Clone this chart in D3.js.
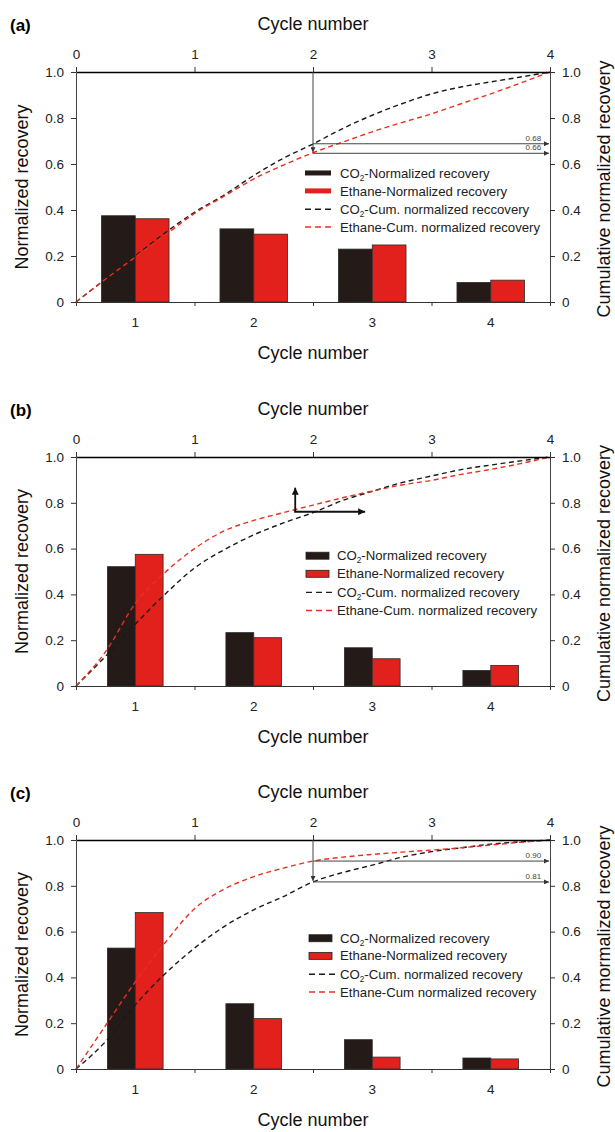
<!DOCTYPE html>
<html><head><meta charset="utf-8">
<script src="https://cdn.jsdelivr.net/npm/d3@7"></script>
<style>
html,body{margin:0;padding:0;background:#fff;}
svg{display:block;font-family:"Liberation Sans",Arial,sans-serif;}
</style></head>
<body><svg id="chart" width="615" height="1132"></svg>
<script>
// ---------- data ----------
const categories = ["1", "2", "3", "4"];
const topTicks = [0, 1, 2, 3, 4];
const yTicks = [0, 0.2, 0.4, 0.6, 0.8, 1.0];
const cumX = [0, 0.25, 0.5, 0.75, 1, 1.25, 1.5, 1.75, 2, 2.25, 2.5, 2.75, 3, 3.25, 3.5, 3.75, 4];

// panel (a)
const aCO2 = [0.375, 0.318, 0.23, 0.085];
const aEthane = [0.362, 0.295, 0.248, 0.095];
const aCumCO2 = [0, 0.10, 0.20, 0.30, 0.39, 0.465, 0.55, 0.625, 0.687, 0.754, 0.812, 0.862, 0.905, 0.935, 0.957, 0.978, 1];
const aCumEthane = [0, 0.10, 0.195, 0.29, 0.385, 0.46, 0.535, 0.595, 0.649, 0.695, 0.74, 0.78, 0.818, 0.862, 0.905, 0.952, 1];
const aLegend = ["CO|2|-Normalized recovery", "Ethane-Normalized recovery", "CO|2|-Cum. normalized reccovery", "Ethane-Cum. normalized recovery"];
const aNotes = [{value: 0.688, label: "0.68"}, {value: 0.6465, label: "0.66"}];

// panel (b)
const bCO2 = [0.521, 0.233, 0.167, 0.068];
const bEthane = [0.575, 0.211, 0.119, 0.09];
const bCumCO2 = [0, 0.13, 0.27, 0.40, 0.515, 0.595, 0.66, 0.712, 0.757, 0.81, 0.85, 0.888, 0.917, 0.945, 0.965, 0.983, 1];
const bCumEthane = [0, 0.15, 0.36, 0.495, 0.60, 0.677, 0.723, 0.757, 0.79, 0.822, 0.851, 0.878, 0.898, 0.924, 0.946, 0.971, 1];
const bLegend = ["CO|2|-Normalized recovery", "Ethane-Normalized recovery", "CO|2|-Cum. normalized  recovery", "Ethane-Cum. normalized recovery"];
const bArrow = {x: 1.85, y: 0.761, xEnd: 2.44, yEnd: 0.866};

// panel (c)
const cCO2 = [0.528, 0.285, 0.128, 0.048];
const cEthane = [0.683, 0.22, 0.052, 0.044];
const cCumCO2 = [0, 0.12, 0.28, 0.415, 0.528, 0.622, 0.695, 0.753, 0.817, 0.858, 0.89, 0.925, 0.949, 0.966, 0.982, 0.992, 1];
const cCumEthane = [0, 0.19, 0.38, 0.55, 0.70, 0.785, 0.84, 0.877, 0.908, 0.925, 0.937, 0.947, 0.956, 0.966, 0.978, 0.99, 1];
const cLegend = ["CO|2|-Normalized recovery", "Ethane-Normalized recovery", "CO|2|-Cum. normalized recovery", "Ethane-Cum normalized recovery"];
const cNotes = [{value: 0.908, label: "0.90"}, {value: 0.817, label: "0.81"}];

const axisTitle = "Cycle number";
const leftTitle = "Normalized recovery";
const rightTitles = ["Cumulative normalized recovery", "Cumulative normalized recovery", "Cumulative mormalized recovery"];

// ---------- styles ----------
const C_DARK = "#241a17";
const C_RED = "#e2211c";
const C_REDLINE = "#e8301f";
const FONT_TITLE = 18, FONT_TICK = 13.5, FONT_LEG = 13.2;

const svg = d3.select("#chart");
const defs = svg.append("defs");
function marker(id, color, w, h) {
  defs.append("marker").attr("id", id).attr("viewBox", "0 0 10 10")
    .attr("refX", 10).attr("refY", 5).attr("markerWidth", w).attr("markerHeight", h)
    .attr("markerUnits", "userSpaceOnUse").attr("orient", "auto-start-reverse")
    .append("path").attr("d", "M0,0 L10,5 L0,10 z").attr("fill", color);
}
marker("arrGrey", "#333", 6, 5);
marker("arrBlack", "#111", 8, 7);

const M = {left: 76, top: 72};
const W = 474;

const panels = [
  {tag: "(a)", offset: 0, h: 230, co2: aCO2, eth: aEthane, cumCO2: aCumCO2, cumEth: aCumEthane, legend: aLegend,
   legendX: 305, legendText: 340, legendY: [0.561, 0.483, 0.403, 0.326], barPad: 0.43, legStyle: "line", notes: aNotes, right: rightTitles[0]},
  {tag: "(b)", offset: 385, h: 229, co2: bCO2, eth: bEthane, cumCO2: bCumCO2, cumEth: bCumEthane, legend: bLegend,
   legendX: 306, legendText: 337, legendY: [0.569, 0.49, 0.409, 0.33], barPad: 0.53, legStyle: "box", arrow: bArrow, right: rightTitles[1]},
  {tag: "(c)", offset: 768, h: 229, co2: cCO2, eth: cEthane, cumCO2: cCumCO2, cumEth: cCumEthane, legend: cLegend,
   legendX: 309, legendText: 340, legendY: [0.571, 0.494, 0.414, 0.336], barPad: 0.53, legStyle: "box", notes: cNotes, right: rightTitles[2]}
];

function richText(sel, str) {
  const parts = str.split("|");
  parts.forEach((p, i) => {
    if (i % 2 === 1) {
      sel.append("tspan").attr("font-size", FONT_LEG * 0.62).attr("dy", 3).text(p);
    } else {
      const t = sel.append("tspan").text(p);
      if (i > 0) t.attr("dy", -3);
    }
  });
}

panels.forEach(p => {
  const H = p.h;
  const g = svg.append("g").attr("transform", `translate(0,${p.offset})`);
  const plot = g.append("g").attr("transform", `translate(${M.left},${M.top})`);

  const x = d3.scaleLinear().domain([0, 4]).range([0, W]);
  const y = d3.scaleLinear().domain([0, 1]).range([H, 0]);
  const band = d3.scaleBand().domain(categories).range([0, W]).paddingInner(p.barPad).paddingOuter(p.barPad / 2);
  const sub = d3.scaleBand().domain(["CO2", "Ethane"]).range([0, band.bandwidth()]);

  // bars
  const rows = categories.map((c, i) => ({c, CO2: p.co2[i], Ethane: p.eth[i]}));
  const grp = plot.selectAll("g.bar").data(rows).join("g").attr("transform", d => `translate(${band(d.c)},0)`);
  grp.selectAll("rect").data(d => ["CO2", "Ethane"].map(k => ({k, v: d[k]}))).join("rect")
    .attr("x", d => sub(d.k)).attr("width", sub.bandwidth())
    .attr("y", d => y(d.v)).attr("height", d => H - y(d.v))
    .attr("fill", d => d.k === "CO2" ? C_DARK : C_RED)
    .attr("stroke", "#2b2b2b").attr("stroke-width", 0.8);

  // cumulative curves
  const line = d3.line().x((d, i) => x(cumX[i])).y(d => y(d)).curve(d3.curveMonotoneX);
  plot.append("path").datum(p.cumCO2).attr("d", line).attr("fill", "none")
    .attr("stroke", "#1a1a1a").attr("stroke-width", 1.4).attr("stroke-dasharray", "5,3.5");
  plot.append("path").datum(p.cumEth).attr("d", line).attr("fill", "none")
    .attr("stroke", C_REDLINE).attr("stroke-width", 1.4).attr("stroke-dasharray", "5,3.5");

  // axes
  const axTop = plot.append("g").call(d3.axisTop(x).tickValues(topTicks).tickSize(5).tickSizeOuter(0).tickPadding(8).tickFormat(d3.format("d")));
  axTop.select(".domain").attr("stroke", "#000").attr("stroke-width", 1.5);
  const axBot = plot.append("g").attr("transform", `translate(0,${H})`)
    .call(d3.axisBottom(x).tickValues(topTicks).tickSize(4).tickSizeOuter(0).tickFormat(""));
  axBot.select(".domain").attr("stroke", "#333").attr("stroke-width", 1.2);
  const axBand = plot.append("g").attr("transform", `translate(0,${H})`)
    .call(d3.axisBottom(band).tickSize(0).tickPadding(15));
  axBand.select(".domain").remove();
  const yfmt = d => d === 0 ? "0" : d3.format(".1f")(d);
  const axL = plot.append("g").call(d3.axisLeft(y).tickValues(yTicks).tickSize(5).tickSizeOuter(0).tickPadding(7).tickFormat(yfmt));
  axL.select(".domain").attr("stroke", "#444");
  const axR = plot.append("g").attr("transform", `translate(${W},0)`)
    .call(d3.axisRight(y).tickValues(yTicks).tickSize(5).tickSizeOuter(0).tickPadding(7).tickFormat(yfmt));
  axR.select(".domain").attr("stroke", "#444");
  plot.selectAll(".tick text").attr("font-size", FONT_TICK).attr("font-family", "Liberation Sans, Arial, sans-serif").attr("fill", "#222");
  plot.selectAll(".tick line").attr("stroke", "#333");

  // annotations
  if (p.notes) {
    const lowest = d3.min(p.notes, d => d.value);
    plot.append("line").attr("x1", x(2)).attr("x2", x(2)).attr("y1", y(1)).attr("y2", y(lowest) - 1)
      .attr("stroke", "#444").attr("stroke-width", 1).attr("marker-end", "url(#arrGrey)");
    p.notes.forEach(n => {
      plot.append("line").attr("x1", x(2)).attr("x2", x(4) - 1).attr("y1", y(n.value)).attr("y2", y(n.value))
        .attr("stroke", "#444").attr("stroke-width", 1).attr("marker-end", "url(#arrGrey)");
      plot.append("text").attr("x", x(3.86)).attr("y", y(n.value) - 3).attr("text-anchor", "middle")
        .attr("font-size", 8).attr("fill", "#444").text(n.label);
    });
  }
  if (p.arrow) {
    const a = p.arrow;
    plot.append("line").attr("x1", x(a.x)).attr("x2", x(a.x)).attr("y1", y(a.y)).attr("y2", y(a.yEnd))
      .attr("stroke", "#111").attr("stroke-width", 1.8).attr("marker-end", "url(#arrBlack)");
    plot.append("line").attr("x1", x(a.x) - 1).attr("x2", x(a.xEnd)).attr("y1", y(a.y)).attr("y2", y(a.y))
      .attr("stroke", "#111").attr("stroke-width", 1.8).attr("marker-end", "url(#arrBlack)");
  }

  // legend
  const lg = g.append("g");
  p.legend.forEach((txt, i) => {
    const yy = M.top + y(p.legendY[i]);
    const x0 = p.legendX, x1 = p.legendX + 26;
    if (i < 2) {
      const fill = i === 0 ? C_DARK : C_RED;
      if (p.legStyle === "line") {
        lg.append("rect").attr("x", x0).attr("y", yy - 2.5).attr("width", 26).attr("height", 5).attr("fill", fill);
      } else {
        lg.append("rect").attr("x", x0).attr("y", yy - 3.5).attr("width", 23).attr("height", 7).attr("fill", fill)
          .attr("stroke", "#222").attr("stroke-width", 0.8);
      }
    } else {
      lg.append("line").attr("x1", x0).attr("x2", x1).attr("y1", yy).attr("y2", yy)
        .attr("stroke", i === 2 ? "#1a1a1a" : C_REDLINE).attr("stroke-width", 1.4).attr("stroke-dasharray", "6,4");
    }
    const t = lg.append("text").attr("x", p.legendText).attr("y", yy + 4.6).attr("font-size", FONT_LEG).attr("fill", "#222");
    richText(t, txt);
  });

  // titles
  g.append("text").attr("x", 10).attr("y", 31).attr("font-size", 17).attr("font-weight", "bold").text(p.tag);
  g.append("text").attr("x", M.left + W / 2).attr("y", 30).attr("text-anchor", "middle").attr("font-size", FONT_TITLE).attr("fill", "#111").text(axisTitle);
  g.append("text").attr("x", M.left + W / 2).attr("y", M.top + H + 57).attr("text-anchor", "middle").attr("font-size", FONT_TITLE).attr("fill", "#111").text(axisTitle);
  g.append("text").attr("transform", `translate(28,${M.top + H / 2}) rotate(-90)`).attr("text-anchor", "middle")
    .attr("font-size", FONT_TITLE).attr("fill", "#111").text(leftTitle);
  g.append("text").attr("transform", `translate(610,${M.top + H / 2 + 2}) rotate(-90)`).attr("text-anchor", "middle")
    .attr("font-size", FONT_TITLE).attr("fill", "#111").text(p.right);
});
</script></body></html>
